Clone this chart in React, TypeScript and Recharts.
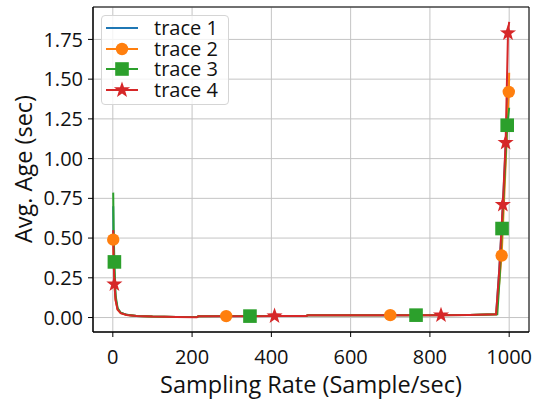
import React from 'react'
import { LineChart, Line, XAxis, YAxis, CartesianGrid, ReferenceArea, Label } from 'recharts'

// sampling rate (x) and average age (y) per trace
const rates1 = [1, 2, 4, 7, 12, 20, 35, 60, 100, 160, 212, 216, 350, 488, 492, 700, 900, 967, 975, 985, 995, 1000]
const ages1 = [0.7, 0.45, 0.25, 0.12, 0.055, 0.03, 0.017, 0.01, 0.006, 0.004, 0.003, 0.008, 0.009, 0.01, 0.014, 0.015, 0.016, 0.02, 0.3, 0.75, 1.3, 1.5]

const rates2 = [1, 2, 4, 7, 12, 20, 35, 60, 100, 160, 212, 216, 286, 488, 492, 700, 900, 967, 975, 981, 990, 999, 1000]
const ages2 = [0.49, 0.36, 0.22, 0.11, 0.05, 0.028, 0.016, 0.01, 0.006, 0.004, 0.003, 0.008, 0.009, 0.01, 0.014, 0.015, 0.016, 0.02, 0.22, 0.39, 0.9, 1.42, 1.54]
const marks2 = [1, 286, 700, 981, 999]

const rates3 = [1, 2, 4, 7, 12, 20, 35, 60, 100, 160, 212, 216, 346, 488, 492, 765, 900, 970, 976, 982, 995, 1000]
const ages3 = [0.786, 0.55, 0.35, 0.14, 0.06, 0.03, 0.017, 0.01, 0.006, 0.004, 0.003, 0.008, 0.009, 0.01, 0.014, 0.015, 0.016, 0.02, 0.25, 0.56, 1.21, 1.32]
const marks3 = [4, 346, 765, 982, 995]

const rates4 = [1, 2, 4, 7, 12, 20, 35, 60, 100, 160, 212, 216, 408, 488, 492, 828, 900, 967, 975, 984, 991, 997, 1000]
const ages4 = [0.55, 0.38, 0.21, 0.11, 0.05, 0.028, 0.016, 0.01, 0.006, 0.004, 0.002, 0.008, 0.009, 0.01, 0.014, 0.015, 0.016, 0.02, 0.3, 0.71, 1.1, 1.79, 1.861]
const marks4 = [4, 408, 828, 984, 991, 997]

const xTicks = [0, 200, 400, 600, 800, 1000]
const yTicks = [0, 0.25, 0.5, 0.75, 1.0, 1.25, 1.5, 1.75]
const labels = ['trace 1', 'trace 2', 'trace 3', 'trace 4']

const COLORS = ['#1f77b4', '#ff7f0e', '#2ca02c', '#d62728']
const FONT = '"Open Sans", sans-serif'

const toRows = (rates: number[], ages: number[]) => rates.map((r, i) => ({ rate: r, age: ages[i] }))

function starPoints(cx: number, cy: number, R: number, r: number) {
  const pts: string[] = []
  for (let k = 0; k < 10; k++) {
    const a = (-90 + 36 * k) * Math.PI / 180
    const rad = k % 2 === 0 ? R : r
    pts.push(`${cx + rad * Math.cos(a)},${cy + rad * Math.sin(a)}`)
  }
  return pts.join(' ')
}

function Marker({ kind, x, y, color }: { kind: string; x: number; y: number; color: string }) {
  if (kind === 'circle') return <circle cx={x} cy={y} r={6.2} fill={color} />
  if (kind === 'square') return <rect x={x - 6.8} y={y - 6.8} width={13.6} height={13.6} fill={color} />
  if (kind === 'star') return <polygon points={starPoints(x, y, 8.5, 3.4)} fill={color} />
  return null
}

const makeDot = (kind: string, color: string, marks: number[]) => (props: any) => {
  const { cx, cy, payload, index } = props
  if (!marks.includes(payload.rate)) return <g key={`e-${index}`} />
  return (
    <g key={`m-${index}`}>
      <Marker kind={kind} x={cx} y={cy} color={color} />
    </g>
  )
}

const kinds = ['none', 'circle', 'square', 'star']

function LegendBox() {
  return (
    <div
      style={{
        position: 'absolute', left: 101, top: 15, width: 128, height: 90,
        border: '1px solid #d5d5d5', borderRadius: 4, background: 'rgba(255,255,255,0.8)',
        boxSizing: 'border-box', fontFamily: FONT,
      }}
    >
      {labels.map((name, i) => (
        <div key={name} style={{ position: 'absolute', left: 0, top: 2 + i * 20.7, height: 20, width: 126 }}>
          <svg width={40} height={20} style={{ position: 'absolute', left: 0, top: 0 }}>
            <line x1={4} x2={36} y1={10} y2={10} stroke={COLORS[i]} strokeWidth={2} />
            <Marker kind={kinds[i]} x={20} y={10} color={COLORS[i]} />
          </svg>
          <span style={{ position: 'absolute', left: 52, top: 0, fontSize: 20, lineHeight: '20px', color: '#111', whiteSpace: 'nowrap' }}>
            {name}
          </span>
        </div>
      ))}
    </div>
  )
}

export default function App() {
  const tickStyle = { fontSize: 20, fill: '#111', fontFamily: FONT }
  return (
    <div style={{ position: 'absolute', left: 0, top: 0, width: 540, height: 400, background: '#fff' }}>
      <LineChart width={540} height={400} margin={{ top: 7, right: 11, bottom: 0, left: 0 }}>
        <CartesianGrid stroke="#c4c4c4" strokeWidth={1} />
        <XAxis
          type="number"
          dataKey="rate"
          domain={[-50, 1050]}
          ticks={xTicks}
          allowDataOverflow
          height={68}
          tickSize={5}
          tickMargin={13}
          stroke="#000"
          tick={tickStyle}
        >
          <Label
            content={() => (
              <text x={311} y={384} textAnchor="middle" dominantBaseline="central" fontSize={23.5} fontFamily={FONT} fill="#111">
                Sampling Rate (Sample/sec)
              </text>
            )}
          />
        </XAxis>
        <YAxis
          type="number"
          domain={[-0.091, 1.954]}
          ticks={yTicks}
          allowDataOverflow
          width={93}
          tickSize={5}
          tickMargin={5}
          stroke="#000"
          tick={tickStyle}
          tickFormatter={(v: number) => v.toFixed(2)}
        >
          <Label
            content={() => (
              <text x={23} y={169} transform="rotate(-90 23 169)" textAnchor="middle" dominantBaseline="central" fontSize={23.5} fontFamily={FONT} fill="#111">
                Avg. Age (sec)
              </text>
            )}
          />
        </YAxis>
        <ReferenceArea x1={-50} x2={1050} y1={-0.091} y2={1.954} fill="none" fillOpacity={0} stroke="#000" strokeWidth={1} />
        <Line data={toRows(rates1, ages1)} dataKey="age" type="linear" stroke={COLORS[0]} strokeWidth={2} dot={false} isAnimationActive={false} />
        <Line data={toRows(rates2, ages2)} dataKey="age" type="linear" stroke={COLORS[1]} strokeWidth={2} dot={makeDot('circle', COLORS[1], marks2)} activeDot={false} isAnimationActive={false} />
        <Line data={toRows(rates3, ages3)} dataKey="age" type="linear" stroke={COLORS[2]} strokeWidth={2} dot={makeDot('square', COLORS[2], marks3)} activeDot={false} isAnimationActive={false} />
        <Line data={toRows(rates4, ages4)} dataKey="age" type="linear" stroke={COLORS[3]} strokeWidth={2} dot={makeDot('star', COLORS[3], marks4)} activeDot={false} isAnimationActive={false} />
      </LineChart>
      <LegendBox />
    </div>
  )
}
